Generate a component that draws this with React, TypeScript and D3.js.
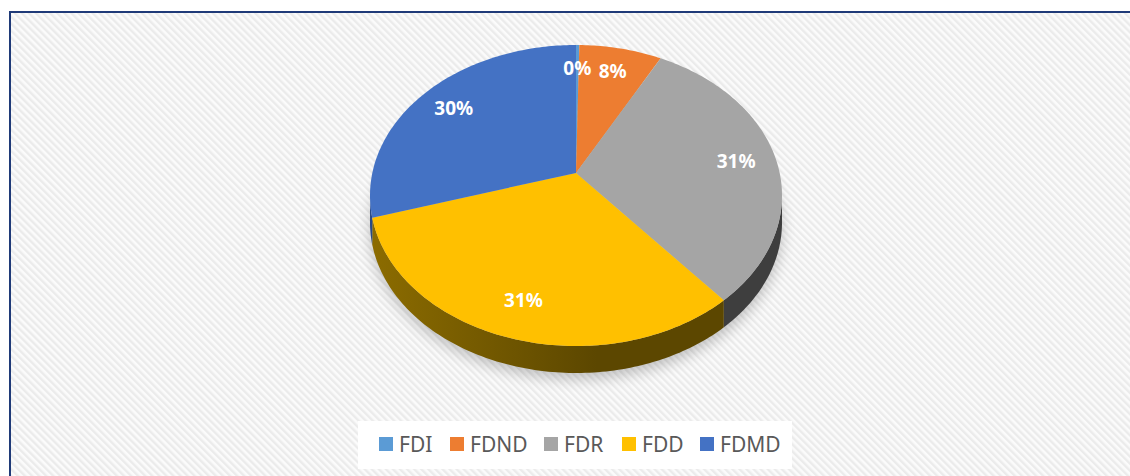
import React from "react";
import * as d3 from "d3";

const categories = ["FDI", "FDND", "FDR", "FDD", "FDMD"];
const shares = [0.3, 7.5, 31.1, 31.4, 29.7];
const topColors = ["#5b9bd5", "#ed7d31", "#a5a5a5", "#ffc000", "#4472c4"];
const sideLight = ["#2e5a85", "#8a4615", "#5e5e5e", "#8c6c00", "#2a4a85"];
const sideDark = ["#1f3f60", "#63310e", "#3e3e3e", "#5c4700", "#1c3361"];

const W = 1130;
const H = 476;

// projected disk: top/bottom/left/right of the top face
const CX = 576;
const TOP = 45;
const BOT = 346;
const HALFW = 206;
const K = 0.15; // perspective factor
const DEPTH = 27;
const AY = ((BOT - TOP) * (1 - K * K)) / 2;
const CY = TOP + AY / (1 + K);
const AX = HALFW * Math.sqrt(1 - K * K);

const proj = (t: number, rho: number, drop = 0): [number, number] => {
  const s = Math.sin(t);
  const c = Math.cos(t);
  const den = 1 + K * rho * c;
  return [CX + (AX * rho * s) / den, CY - (AY * rho * c) / den + drop];
};

const arcPts = (a: number, b: number, drop: number) => {
  const n = Math.max(2, Math.ceil(((b - a) * 180) / Math.PI));
  return d3.range(n + 1).map((i) => proj(a + ((b - a) * i) / n, 1, drop));
};

const line = d3.line();

const App = () => {
  const arcs = d3.pie<number>().sort(null)(shares);
  const t1 = Math.acos(-K);
  const t2 = 2 * Math.PI - t1;
  const fmt = d3.format(".0f");

  const outline = [...arcPts(0, Math.PI, DEPTH), ...arcPts(Math.PI, 2 * Math.PI, DEPTH)];

  return (
    <svg
      width={W}
      height={H}
      style={{ position: "absolute", left: 0, top: 0 }}
      fontFamily="'Noto Sans', 'Liberation Sans', sans-serif"
    >
      <defs>
        <pattern id="hatch" width={5} height={5} patternUnits="userSpaceOnUse" patternTransform="rotate(-45)">
          <rect width={5} height={5} fill="#fbfbfb" />
          <rect width={2.4} height={5} fill="#ebebeb" />
        </pattern>
        <filter id="blur" x="-20%" y="-20%" width="140%" height="140%">
          <feGaussianBlur stdDeviation={7} />
        </filter>
        {categories.map((c, i) => (
          <linearGradient key={c} id={`side${i}`} gradientUnits="userSpaceOnUse" x1={CX - HALFW} x2={CX + HALFW} y1={0} y2={0}>
            <stop offset="0" stopColor={sideLight[i]} />
            <stop offset="0.55" stopColor={sideDark[i]} />
            <stop offset="1" stopColor={sideDark[i]} />
          </linearGradient>
        ))}
      </defs>
      <rect x={0} y={0} width={W} height={H} fill="#fff" />
      <rect x={10} y={12} width={W - 10} height={H - 12} fill="url(#hatch)" />
      <path d={`M10,${H}V12H${W}`} fill="none" stroke="#1f3a78" strokeWidth={2} />

      <path d={line(outline.map(([x, y]) => [x, y + 6]) as [number, number][]) + "Z"} fill="#000" opacity={0.22} filter="url(#blur)" />

      {arcs.map((d, i) => {
        const a = Math.max(d.startAngle, t1);
        const b = Math.min(d.endAngle, t2);
        if (b <= a) return null;
        const pts = [...arcPts(a, b, 0), ...arcPts(a, b, DEPTH).reverse()];
        return <path key={`s${i}`} d={line(pts as [number, number][]) + "Z"} fill={`url(#side${i})`} />;
      })}

      {arcs.map((d, i) => {
        const pts = [proj(0, 0), ...arcPts(d.startAngle, d.endAngle, 0)];
        return <path key={`t${i}`} d={line(pts as [number, number][]) + "Z"} fill={topColors[i]} />;
      })}

      {arcs.map((d, i) => {
        const [x, y] = proj((d.startAngle + d.endAngle) / 2, 0.8);
        return (
          <text key={`l${i}`} x={x} y={y} textAnchor="middle" dominantBaseline="central" fill="#fff" fontWeight="bold" fontSize={19}>
            {fmt(d.data)}%
          </text>
        );
      })}

      <rect x={358} y={421} width={434} height={48} fill="#fff" />
      {categories.map((c, i) => {
        const xs = [379, 450, 544, 622, 700];
        return (
          <g key={c} transform={`translate(${xs[i]},437)`}>
            <rect width={14} height={14} fill={topColors[i]} />
            <text x={20} y={7} dominantBaseline="central" fill="#595959" fontSize={21}>
              {c}
            </text>
          </g>
        );
      })}
    </svg>
  );
};

export default App;
